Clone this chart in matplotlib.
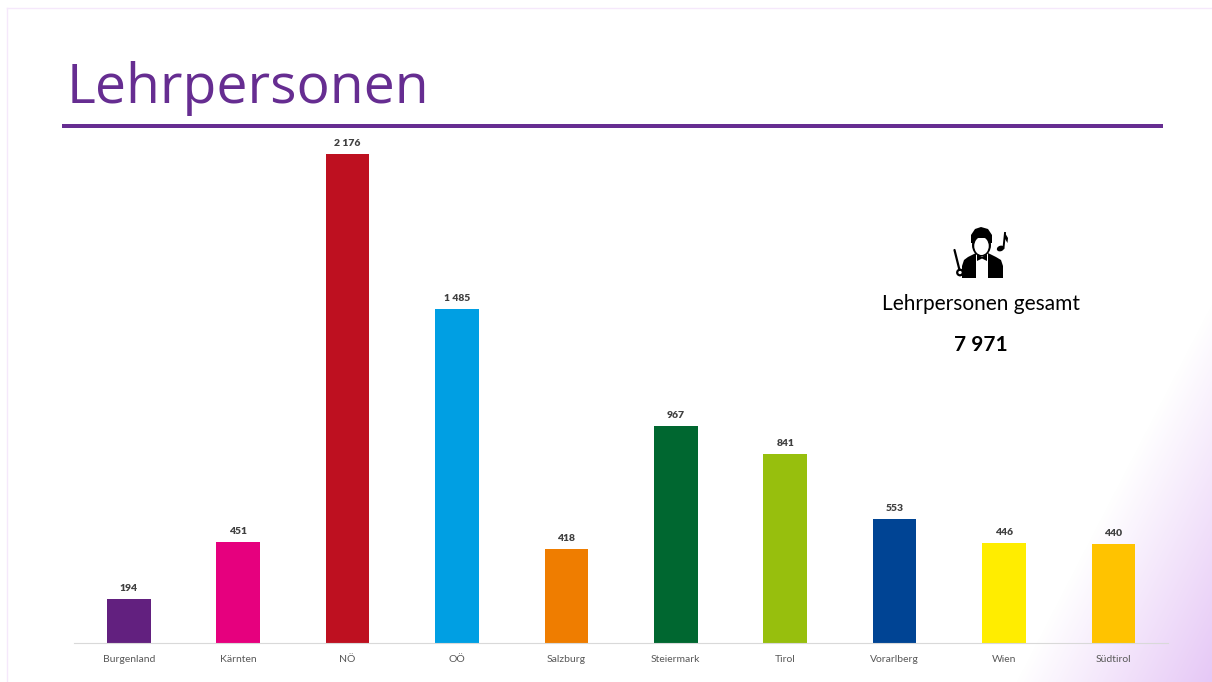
import matplotlib
matplotlib.use("Agg")
import matplotlib.pyplot as plt
import numpy as np
from matplotlib.colors import LinearSegmentedColormap
from matplotlib.patches import Circle, Ellipse, Polygon, Rectangle

plt.rcParams["font.family"] = ["Lato", "DejaVu Sans"]

categories = ["Burgenland", "Kärnten", "NÖ", "OÖ", "Salzburg",
              "Steiermark", "Tirol", "Vorarlberg", "Wien", "Südtirol"]
values = [194, 451, 2176, 1485, 418, 967, 841, 553, 446, 440]
bar_colors = ["#62207F", "#E6007E", "#BE1020", "#009FE3", "#EF7D00",
              "#006730", "#97BF0D", "#004494", "#FFED00", "#FFC300"]
total = 7971
PURPLE = "#662D91"

W, H = 1212, 682
fig = plt.figure(figsize=(W / 100, H / 100), dpi=100, facecolor="white")

# slide layer, works in pixel coordinates
bg = fig.add_axes([0, 0, 1, 1])
bg.axis("off")

# diagonal lilac fade in the lower right corner
xx, yy = np.meshgrid(np.arange(W), np.arange(H))
fade = np.clip(((xx - 1015) * 0.89 + (yy - 682) * 0.46) / 175, 0, 1)
cmap = LinearSegmentedColormap.from_list("fade", ["#FFFFFF", "#E6C8F6"])
bg.imshow(fade, cmap=cmap, vmin=0, vmax=1, extent=(0, W, H, 0), aspect="auto", zorder=0)
bg.set_xlim(0, W)
bg.set_ylim(H, 0)

# slide frame and title
bg.plot([7, 7], [8, H], color="#F5E8FB", lw=1, zorder=1)
bg.plot([7, W], [8, 8], color="#F5E8FB", lw=1, zorder=1)
bg.text(67, 102.5, "Lehrpersonen", color=PURPLE, family="Open Sans", fontsize=39.8,
        ha="left", va="baseline")
bg.add_patch(Rectangle((62, 123.5), 1101, 4, color=PURPLE, lw=0))

# conductor icon
bg.add_patch(Polygon([(962, 278), (962, 266), (964, 260), (968, 257), (976, 253), (988, 253),
                      (996, 257), (1001, 260), (1003, 266), (1003, 278)], color="black", lw=0))
bg.add_patch(Polygon([(976, 253), (988, 253), (988, 278), (976, 278)], color="white", lw=0))
bg.add_patch(Polygon([(977, 254), (982, 257), (987, 254), (987, 261), (982, 258.5), (977, 261)],
                     color="black", lw=0))
bg.add_patch(Ellipse((981.5, 245), 19, 23, color="black", lw=0))
bg.add_patch(Ellipse((981.5, 246), 14.5, 18, color="white", lw=0))
# hair on top of the face
bg.add_patch(Polygon([(971, 243), (971, 235), (975, 229), (981, 227), (988, 229), (992, 235),
                      (992, 243), (989, 243), (987, 238), (976, 238), (974, 243)],
                     color="black", lw=0))
bg.plot([954.5, 959.5], [250, 270], color="black", lw=1.6, solid_capstyle="round")
bg.add_patch(Circle((960, 272.5), 2.8, facecolor="white", edgecolor="black", lw=1.6))
# note
bg.plot([1005, 1003.5], [233, 248], color="black", lw=1.4)
bg.add_patch(Polygon([(1005, 233), (1008, 238), (1007.5, 243), (1004.5, 238)], color="black", lw=0))
bg.add_patch(Ellipse((1000.5, 248.5), 7.5, 5.5, angle=-20, color="black", lw=0))

# summary text
bg.text(981, 304, "Lehrpersonen gesamt", color="black", fontsize=15, ha="center", va="center")
bg.text(981, 345, f"{total:,}".replace(",", " "), color="black", fontsize=15,
        fontweight="bold", ha="center", va="center")

# chart
ax = fig.add_axes([74.1 / W, (H - 643) / H, 1094 / W, 513 / H])
ax.patch.set_alpha(0)
x = np.arange(len(categories))
ax.bar(x, values, width=0.4, color=bar_colors, zorder=2)
for xi, v in zip(x, values):
    ax.annotate(f"{v:,}".replace(",", " "), (xi, v), xytext=(0, 6), textcoords="offset pixels",
                ha="center", va="bottom", fontsize=7.5, fontweight="heavy", color="#404040")
ax.set_xlim(-0.5, len(categories) - 0.5)
ax.set_ylim(0, 2283)
ax.set_xticks(x)
ax.set_xticklabels(categories, fontsize=7.5, color="#595959")
ax.tick_params(axis="x", length=0, pad=9)
ax.set_yticks([])
for name, spine in ax.spines.items():
    spine.set_visible(name == "bottom")
ax.spines["bottom"].set_color("#D9D9D9")

fig.savefig("out.png", dpi=100, facecolor="white")
